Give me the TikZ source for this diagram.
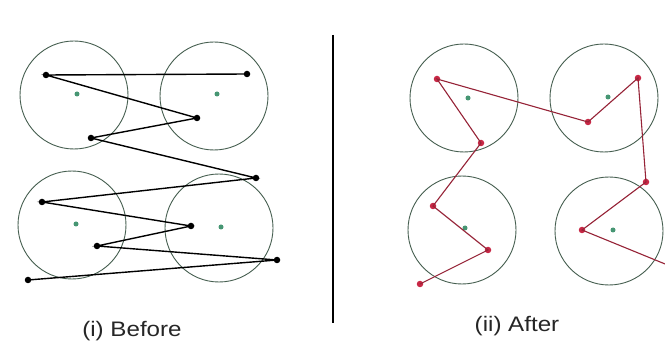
\documentclass[tikz,border=0pt]{standalone}
\usepackage{fontspec}
\setmainfont{Liberation Sans}
\usepackage{graphicx}
\definecolor{circ}{RGB}{70,95,80}
\definecolor{cdot}{RGB}{70,150,115}
\definecolor{rline}{RGB}{150,35,55}
\definecolor{rdot}{RGB}{200,40,70}
\begin{document}
\begin{tikzpicture}[x=1pt,y=-1pt,
  cell/.style={draw=circ,line width=0.9pt},
  ctr/.style={circle,fill=cdot,inner sep=0pt,minimum size=5pt},
  bpt/.style={circle,fill=black,inner sep=0pt,minimum size=6.5pt},
  rpt/.style={circle,fill=rdot,inner sep=0pt,minimum size=6.5pt},
  bpath/.style={draw=black,line width=1.4pt},
  rpath/.style={draw=rline,line width=1.1pt},
  lbl/.style={font=\fontsize{21}{25}\selectfont,text=black!85}]
\clip (0,0) rectangle (665,350);
\fill[white] (0,0) rectangle (665,350);
% left circles
\draw[cell] (74,95) circle (54);
\draw[cell] (214,96) circle (54);
\draw[cell] (72,225) circle (54);
\draw[cell] (219,228) circle (54);
\node[ctr] (lc1) at (77,94) {};
\node[ctr] (lc2) at (217,94) {};
\node[ctr] (lc3) at (76,224) {};
\node[ctr] (lc4) at (221,227) {};
% left points
\node[bpt] (p1) at (46,75) {};
\node[bpt] (p2) at (247,74) {};
\node[bpt] (p3) at (197,118) {};
\node[bpt] (p4) at (91,138) {};
\node[bpt] (p5) at (256,178) {};
\node[bpt] (p6) at (42,202) {};
\node[bpt] (p7) at (191,226) {};
\node[bpt] (p8) at (97,246) {};
\node[bpt] (p9) at (277,260) {};
\node[bpt] (p10) at (28,280) {};
\draw[bpath] (p2.center) -- (p1.center) -- (p3.center) -- (p4.center) -- (p5.center) -- (p6.center) -- (p7.center) -- (p8.center) -- (p9.center) -- (p10.center);
% divider
\coordinate (d1) at (333,35);
\coordinate (d2) at (333,323);
\draw[line width=1.6pt] (d1) -- (d2);
% right circles
\draw[cell] (464,98) circle (54);
\draw[cell] (604,98) circle (54);
\draw[cell] (462,230) circle (54);
\draw[cell] (609,231) circle (54);
\node[ctr] (rc1) at (468,98) {};
\node[ctr] (rc2) at (608,97) {};
\node[ctr] (rc3) at (465,228) {};
\node[ctr] (rc4) at (613,230) {};
% right points
\node[rpt] (q1) at (437,79) {};
\node[rpt] (q2) at (588,122) {};
\node[rpt] (q3) at (638,78) {};
\node[rpt] (q4) at (646,182) {};
\node[rpt] (q5) at (582,230) {};
\node[rpt] (q6) at (670,266) {};
\node[rpt] (q7) at (481,143) {};
\node[rpt] (q8) at (433,206) {};
\node[rpt] (q9) at (488,250) {};
\node[rpt] (q10) at (420,284) {};
\draw[rpath] (q10.center) -- (q9.center) -- (q8.center) -- (q7.center) -- (q1.center) -- (q2.center) -- (q3.center) -- (q4.center) -- (q5.center) -- (q6.center);
% labels
\node[lbl] (lb1) at (132,331) {\scalebox{1.15}[1]{(i) Before}};
\node[lbl] (lb2) at (517,326) {\scalebox{1.15}[1]{(ii) After}};
\end{tikzpicture}
\end{document}
